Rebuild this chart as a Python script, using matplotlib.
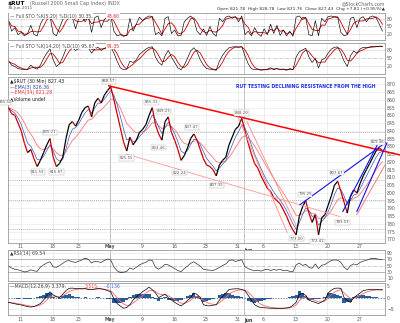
import numpy as np
import pandas as pd
import matplotlib
matplotlib.use('Agg')
import matplotlib.pyplot as plt
from matplotlib.collections import LineCollection

# $RUT closes, two per trading day (day 0 = 7-Apr-2011)
closes = [855, 851, 850, 845, 840, 832, 826, 828, 822, 817,
          821, 826, 831, 835, 823, 817, 819, 823, 835, 844,
          846, 843, 847, 852, 855, 856, 849, 858, 861, 858,
          863, 866, 868.5, 860, 851, 842, 833, 827, 836, 831,
          834, 839, 841, 844, 850, 855, 844, 838, 834, 846,
          849, 839, 834, 828, 821, 824, 829, 835, 838, 834,
          828, 822, 818, 817, 815, 811, 818, 821, 823, 831,
          836, 841, 843, 848, 840, 832, 825, 819, 816, 811,
          807, 803, 801, 797, 795, 793, 789, 785, 780, 776,
          773, 785, 791, 795, 787, 781, 786, 773, 784, 786,
          792, 798, 805, 807.5, 801, 794, 787, 798, 802, 800,
          806, 811, 815, 819, 823, 827, 829, 827.4]

# fast full stochastic %K (top panel), read at the same points
sto_fast = [75, 30, 45, 15, 25, 10, 20, 55, 15, 10,
            60, 85, 90, 95, 20, 10, 45, 80, 92, 95,
            88, 40, 85, 90, 70, 92, 25, 88, 95, 45,
            80, 92, 95, 30, 10, 15, 8, 12, 85, 30,
            60, 90, 75, 88, 95, 92, 15, 25, 10, 85,
            92, 20, 35, 10, 12, 70, 85, 95, 80, 30,
            15, 40, 12, 50, 20, 8, 85, 70, 90, 95,
            85, 92, 70, 95, 15, 30, 10, 45, 20, 8,
            40, 15, 60, 20, 55, 12, 35, 10, 30, 8,
            90, 95, 80, 88, 15, 10, 75, 10, 85, 70,
            92, 95, 90, 88, 25, 10, 15, 85, 90, 45,
            85, 92, 70, 90, 95, 88, 60, 30.35]

# slow full stochastic %K (second panel)
sto_slow = [40, 25, 20, 12, 10, 8, 10, 25, 15, 10,
            25, 50, 70, 85, 45, 20, 30, 55, 85, 92,
            90, 80, 88, 92, 93, 90, 70, 85, 92, 80,
            88, 93, 94, 70, 40, 15, 8, 10, 40, 35,
            45, 65, 75, 85, 92, 93, 55, 35, 25, 60,
            80, 55, 35, 15, 8, 25, 50, 78, 90, 75,
            45, 25, 12, 10, 8, 6, 40, 62, 78, 90,
            93, 94, 92, 94, 60, 30, 12, 8, 10, 6,
            8, 10, 15, 8, 12, 8, 10, 6, 12, 8,
            55, 75, 82, 88, 55, 35, 50, 15, 45, 50,
            70, 85, 92, 93, 70, 40, 20, 60, 78, 70,
            85, 92, 90, 93, 95, 94, 96, 95.67]

rsi_vals = [48, 42, 38, 36, 33, 29, 31, 36, 33, 31,
            45, 52, 58, 62, 46, 44, 50, 57, 64, 66,
            62, 60, 64, 68, 74, 70, 58, 64, 62, 60,
            66, 71, 68, 45, 33, 27, 28, 31, 42, 38,
            44, 52, 57, 60, 68, 66, 44, 38, 45, 54,
            52, 46, 40, 34, 30, 40, 48, 57, 62, 55,
            48, 38, 36, 35, 34, 38, 44, 50, 55, 66,
            68, 63, 66, 68, 46, 40, 36, 33, 35, 32,
            36, 38, 34, 37, 35, 38, 33, 35, 31, 30,
            52, 58, 50, 54, 44, 41, 55, 40, 51, 53,
            60, 66, 68, 67, 60, 44, 36, 50, 55, 52,
            60, 64, 67, 71, 73, 72, 70, 69.54]

macd_vals = [-2.0, -2.3, -2.6, -2.9, -3.1, -3.5, -3.8, -4.0, -3.8, -3.2,
             -2.5, -1.0, 1.0, 2.5, 1.2, 0.4, 0.0, 1.5, 3.0, 4.0,
             4.1, 3.9, 4.0, 3.8, 3.9, 3.5, 3.4, 3.7, 3.9, 3.8,
             3.5, 3.0, 2.5, -0.5, -2.5, -3.6, -4.5, -4.2, -3.0, -1.0,
             0.3, 1.5, 2.6, 3.5, 4.5, 3.4, 2.0, 0.0, 0.8, 1.5,
             0.0, -1.0, -2.0, -2.8, -3.5, -2.5, -1.2, 0.0, 2.0, 1.4,
             0.0, -3.0, -3.4, -3.5, -3.2, -3.0, -1.0, 0.5, 2.0, 3.5,
             3.7, 3.8, 3.8, 3.5, 3.0, 1.0, -1.0, -3.0, -3.8, -4.2,
             -4.3, -4.4, -4.5, -4.5, -4.6, -4.6, -4.5, -4.4, -4.2, -3.2,
             -2.0, 1.5, 1.8, 1.0, -1.0, -1.6, -2.0, -2.5, -1.8, -1.0,
             2.0, 3.2, 4.0, 4.1, 4.0, 0.0, -1.2, -2.0, 0.0, 1.0,
             2.0, 3.0, 3.3, 3.5, 3.6, 3.5, 3.4, 3.379]

tick_days = [2, 7, 11, 16, 21, 26, 31, 36, 40, 45, 50, 55]
tick_labels = ['11', '18', '25', 'May', '9', '16', '23', '31', '6', '13', '20', '27']
month_days = [16, 37]

# peak / trough labels: (day, price, text)
marks = [(-0.4, 858.5, '855.50'), (15.8, 872, '868.57'), (6.6, 839, '835.21'),
         (4.7, 813.5, '815.59'), (7.6, 813.5, '816.87'), (18.6, 822.5, '825.55'),
         (22.5, 858.5, '855.31'), (23.6, 829, '833.46'), (24.4, 852.5, '849.23'),
         (26.9, 813, '822.24'), (28.8, 842.5, '837.47'), (32.7, 805, '807.35'),
         (36.6, 851.5, '848.20'), (46.5, 799, '795.25'), (45.2, 770.6, '773.00'),
         (48.5, 768.9, '772.42'), (51.5, 813, '807.67'), (52.4, 781, '783.53'),
         (57.9, 832.5, '829.36')]

# trendlines drawn on the chart: ((day, price), (day, price), colour, width)
trendlines = [((15.8, 869), (61.3, 824.5), '#ff0000', 1.1),
              ((18.6, 825), (52.0, 784.7), '#ff9999', 0.6),
              ((36.0, 849), (43.7, 774.5), '#ff8888', 0.6),
              ((37.4, 846), (45.2, 778), '#ff8888', 0.6),
              ((45.7, 792.4), (59.0, 832.2), '#1010ee', 0.8),
              ((52.4, 788), (58.2, 834.1), '#1010ee', 0.8),
              ((54.6, 788), (59.3, 832.2), '#1010ee', 0.8),
              ((54.6, 786), (59.0, 818), '#ff6666', 0.6)]
dotted_levels = [839.5, 808.5, 795.5, 777]

days = np.arange(len(closes)) * 0.5 + 0.1
px = pd.Series(closes)
ema_fast = px.ewm(span=3, adjust=False).mean()
ema_slow = px.ewm(span=8, adjust=False).mean()
k1 = pd.Series(sto_fast)
d1 = k1.rolling(3, min_periods=1).mean()
k2 = pd.Series(sto_slow)
d2 = k2.rolling(3, min_periods=1).mean()
rsi = pd.Series(rsi_vals)
macd = pd.Series(macd_vals)
signal = macd.ewm(span=4, adjust=False).mean()
hist = macd - signal

fig = plt.figure(figsize=(4, 3.23), dpi=100)
L, W = 0.0195, 0.943
ax1 = fig.add_axes([L, 0.876, W, 0.084])
ax2 = fig.add_axes([L, 0.771, W, 0.096])
ax = fig.add_axes([L, 0.249, W, 0.514])
ax3 = fig.add_axes([L, 0.130, W, 0.096])
ax4 = fig.add_axes([L, 0.024, W, 0.100])

fs = 3.3
for a in [ax1, ax2, ax, ax3, ax4]:
    a.set_xlim(0, 59)
    a.yaxis.tick_right()
    a.tick_params(length=0, labelsize=fs, colors='#555555', pad=1.5)
    for sp in a.spines.values():
        sp.set_color('#999999')
        sp.set_linewidth(0.6)
    a.set_xticks(tick_days)
    for t in tick_days:
        a.axvline(t, color='#dddddd', lw=0.4, zorder=0)
    for t in month_days:
        a.axvline(t, color='#aaaaaa', lw=0.5, zorder=0)
    a.set_xticklabels([])

for a in [ax, ax4]:
    a.set_xticklabels(tick_labels)
    a.tick_params(axis='x', pad=1)
    for lab in a.get_xticklabels():
        if lab.get_text() == 'May':
            lab.set_fontweight('bold')
    a.text(37.6, -0.03 if a is ax else -0.10, 'Jun', transform=a.get_xaxis_transform(),
           fontsize=fs, fontweight='bold', color='#333333', va='top', ha='center')

# stochastic panels
for a, k, d, lab, v1, v2 in [(ax1, k1, d1, 'Full STO %K(5,20) %D(10)', '30.35,', '43.60'),
                             (ax2, k2, d2, 'Full STO %K(14,20) %D(10)', '95.67,', '91.35')]:
    a.set_ylim(-8, 108)
    a.set_yticks([20, 50, 80])
    for lv in [20, 80]:
        a.axhline(lv, color='#cccccc', lw=0.4, zorder=0)
    a.axhline(50, color='#aaaaaa', lw=0.4, ls='-.', zorder=0)
    a.plot(days, d, color='#cc0000', lw=0.6)
    a.plot(days, k, color='black', lw=0.45)
    a.text(0.005, 0.97, '\u2014 ' + lab + ' ' + v1, transform=a.transAxes,
           fontsize=fs, color='#444444', va='top',
           bbox=dict(fc='white', ec='none', pad=0.3))
    a.text(0.262, 0.97, v2, transform=a.transAxes, fontsize=fs, color='#dd2222', va='top',
           bbox=dict(fc='white', ec='none', pad=0.3))

# main price panel
ax.set_ylim(768, 875)
ax.set_yticks(np.arange(770, 871, 5))
for lv in np.arange(770, 871, 5):
    ax.axhline(lv, color='#e6e6e6', lw=0.4, zorder=0)
for lv in dotted_levels:
    ax.axhline(lv, color='#999999', lw=0.5, ls=(0, (1.5, 1.5)), zorder=0)

ax.plot(days, ema_slow, color='#ff7777', lw=0.6, zorder=2)
ax.plot(days, ema_fast, color='#4455bb', lw=0.5, zorder=2)
pts = np.column_stack([days, closes])
segs = np.stack([pts[:-1], pts[1:]], axis=1)
cols = ['black' if b >= a else '#cc0000' for a, b in zip(closes[:-1], closes[1:])]
ax.add_collection(LineCollection(segs, colors=cols, linewidths=0.9, zorder=3))

for (x0, y0), (x1, y1), c, w in trendlines:
    ax.plot([x0, x1], [y0, y1], color=c, lw=w, zorder=4, clip_on=False)

for d, p, t in marks:
    ax.text(d, p, t, fontsize=2.8, color='#555555', ha='center', va='center', zorder=5,
            clip_on=False, bbox=dict(fc='white', ec='#aaaaaa', lw=0.3, pad=0.4))

ax.text(0.79, 0.955, 'RUT TESTING DECLINING RESISTANCE FROM THE HIGH', transform=ax.transAxes,
        fontsize=3.3, color='#2233ee', ha='center', va='top', fontweight='bold')
leg = [('\u25b2$RUT (30 Min) 827.43', '#222222'), ('\u2014EMA(3) 826.36', '#3344aa'),
       ('\u2014EMA(34) 821.28', '#ee3333'), ('\u25b2Volume undef', '#222222')]
for i, (t, c) in enumerate(leg):
    ax.text(0.005, 0.985 - i * 0.034, t, transform=ax.transAxes, fontsize=fs, color=c, va='top')

# RSI panel
ax3.set_ylim(0, 100)
ax3.set_yticks([10, 30, 50, 70, 90])
for lv in [10, 90]:
    ax3.axhline(lv, color='#e0e0e0', lw=0.4, zorder=0)
ax3.axhline(70, color='#999999', lw=0.5)
ax3.axhline(30, color='#999999', lw=0.5)
ax3.axhline(50, color='#aaaaaa', lw=0.4, ls='-.')
ax3.plot(days, rsi, color='#333333', lw=0.5)
ax3.fill_between(days, rsi, 70, where=rsi > 70, color='#448844', lw=0, interpolate=True)
ax3.fill_between(days, rsi, 30, where=rsi < 30, color='#994444', lw=0, interpolate=True)
ax3.text(0.005, 0.97, '\u25b2RSI(14) 69.54', transform=ax3.transAxes, fontsize=fs,
         color='#444444', va='top', bbox=dict(fc='white', ec='none', pad=0.3))

# MACD panel
ax4.set_ylim(-7.5, 6.3)
ax4.set_yticks([-5, 0, 5])
for lv in [-5, 5]:
    ax4.axhline(lv, color='#e0e0e0', lw=0.4, zorder=0)
ax4.bar(days, hist, width=0.5, color='#2a5c9a', lw=0, zorder=1)
ax4.axhline(0, color='#2a5c9a', lw=0.5, ls=(0, (2, 2)))
ax4.plot(days, signal, color='#ff6666', lw=0.6, zorder=2)
ax4.plot(days, macd, color='black', lw=0.5, zorder=3)
ax4.text(0.005, 0.97, '\u2014MACD(12,26,9) 3.379,', transform=ax4.transAxes, fontsize=fs,
         color='#444444', va='top')
ax4.text(0.205, 0.97, '3.515,', transform=ax4.transAxes, fontsize=fs, color='#ee4444', va='top')
ax4.text(0.26, 0.97, '-0.136', transform=ax4.transAxes, fontsize=fs, color='#5566ee', va='top')

# header
fig.text(0.02, 0.997, '$RUT', fontsize=4.2, fontweight='bold', va='top')
fig.text(0.075, 0.997, '(Russell 2000 Small Cap Index) INDX', fontsize=3.5, color='#666666', va='top')
fig.text(0.02, 0.975, '30-Jun-2011', fontsize=3.0, color='#555555', va='center')
fig.text(0.962, 0.997, '@StockCharts.com', fontsize=3.3, color='#666666', va='top', ha='right')
fig.text(0.962, 0.978, 'Open 821.78  High 828.78  Low 821.76  Close 827.43  Chg +7.81 (+0.95%)\u25b2',
         fontsize=3.2, color='#333333', va='top', ha='right')

fig.savefig('out.png', dpi=100, facecolor='white')
